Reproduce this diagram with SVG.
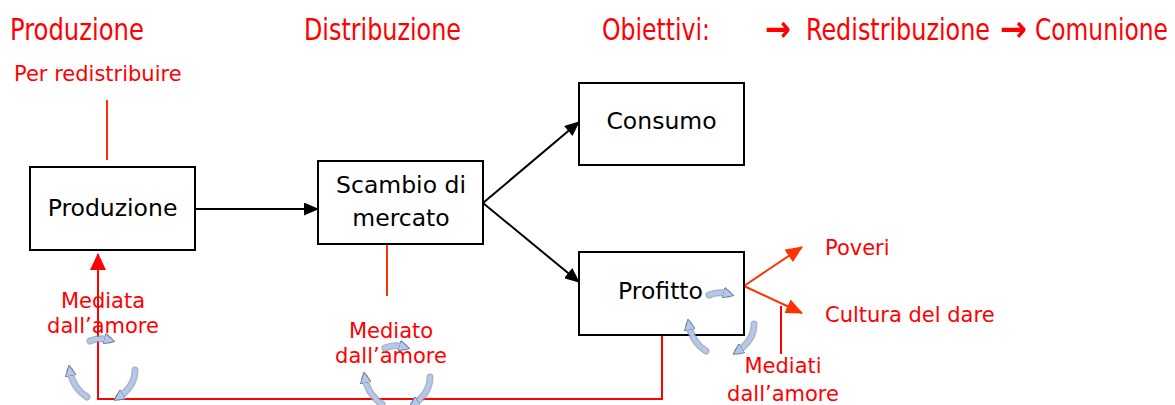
<svg xmlns="http://www.w3.org/2000/svg" width="1175" height="405" viewBox="0 0 1175 405">
<style>
.hdr{font-family:"DejaVu Sans Condensed",sans-serif;font-size:26px;fill:#ff0000}
.arr{font-family:"DejaVu Sans",sans-serif;font-size:36px;font-weight:bold;fill:#ff0000}
.lbl{font-family:"DejaVu Sans",sans-serif;font-size:21px;fill:#ff0000}
.box{fill:#ffffff;stroke:#000000;stroke-width:2}
.btxt{font-family:"DejaVu Sans",sans-serif;font-size:23.5px;fill:#000000;text-anchor:middle}
.blk{stroke:#000000;stroke-width:2;fill:none}
.org{stroke:#ff3300;stroke-width:2;fill:none}
.red{stroke:#ff0000;stroke-width:2;fill:none}
.bsh{stroke:#8a96a8;stroke-width:7;fill:none;stroke-linecap:round;opacity:0.7}
.bfl{stroke:#b4c8ee;stroke-width:4;fill:none;stroke-linecap:round}
</style>
<defs>
<marker id="ah" markerUnits="userSpaceOnUse" markerWidth="15" markerHeight="13" refX="14" refY="6.5" orient="auto">
<path d="M0,0 L15,6.5 L0,13 z" fill="#000000"/>
</marker>
<marker id="oh" markerUnits="userSpaceOnUse" markerWidth="17" markerHeight="15" refX="16" refY="7.5" orient="auto">
<path d="M0,0 L17,7.5 L0,15 z" fill="#ff3300"/>
</marker>
<marker id="rh" markerUnits="userSpaceOnUse" markerWidth="17" markerHeight="16" refX="16" refY="8" orient="auto">
<path d="M0,0 L17,8 L0,16 z" fill="#ff0000"/>
</marker>
<marker id="bh" markerUnits="userSpaceOnUse" markerWidth="11" markerHeight="11" refX="5" refY="5.5" orient="auto">
<path d="M0,0 L11,5.5 L0,11 z" fill="#b4c8ee" stroke="#6f7f96" stroke-width="1"/>
</marker>
<g id="cyc">
<path class="bsh" d="M-11,1 Q-2,-3 8,0"/>
<path class="bsh" d="M-14,57 Q-28,48 -31,31"/>
<path class="bsh" d="M34,30 Q34,46 18,57"/>
<path class="bfl" d="M-11,1 Q-2,-3 8,0" marker-end="url(#bh)"/>
<path class="bfl" d="M-14,57 Q-28,48 -31,31" marker-end="url(#bh)"/>
<path class="bfl" d="M34,30 Q34,46 18,57" marker-end="url(#bh)"/>
</g>
</defs>

<g id="headers" transform="translate(0,40) scale(1,1.13)">
<text class="hdr" x="10" y="0" textLength="134" lengthAdjust="spacingAndGlyphs">Produzione</text>
<text class="hdr" x="304" y="0" textLength="157" lengthAdjust="spacingAndGlyphs">Distribuzione</text>
<text class="hdr" x="602" y="0" textLength="108" lengthAdjust="spacingAndGlyphs">Obiettivi:</text>
<text class="hdr" x="806" y="0" textLength="184" lengthAdjust="spacingAndGlyphs">Redistribuzione</text>
<text class="hdr" x="1035" y="0" textLength="133" lengthAdjust="spacingAndGlyphs">Comunione</text>
</g>
<g id="header-arrows">
<text class="arr" x="765" y="41" textLength="26" lengthAdjust="spacingAndGlyphs">→</text>
<text class="arr" x="1000" y="41" textLength="27" lengthAdjust="spacingAndGlyphs">→</text>
</g>

<g id="connectors">
<line class="org" x1="107" y1="100" x2="107" y2="160"/>
<line class="org" x1="387" y1="245" x2="387" y2="296"/>
<line class="red" x1="781" y1="306" x2="781" y2="354"/>
<path class="blk" d="M195,209 L318,209" marker-end="url(#ah)"/>
<path class="blk" d="M483,203 L579,122" marker-end="url(#ah)"/>
<path class="blk" d="M483,203 L579,282" marker-end="url(#ah)"/>
<path class="org" d="M744,286 L802,247" marker-end="url(#oh)"/>
<path class="org" d="M744,286 L802,313" marker-end="url(#oh)"/>
<path class="red" d="M662,335 L662,399 L98,399 L98,254" marker-end="url(#rh)"/>
</g>

<g id="n-produzione">
<rect class="box" x="30" y="167" width="165" height="83"/>
<text class="btxt" x="112.5" y="216">Produzione</text>
</g>
<g id="n-scambio">
<rect class="box" x="318" y="161" width="165" height="83"/>
<text class="btxt" x="401" y="193">Scambio di</text>
<text class="btxt" x="401" y="226">mercato</text>
</g>
<g id="n-consumo">
<rect class="box" x="579" y="83" width="165" height="82"/>
<text class="btxt" x="661.5" y="129">Consumo</text>
</g>
<g id="n-profitto">
<rect class="box" x="579" y="252" width="165" height="83"/>
<text class="btxt" x="660.5" y="299">Profitto</text>
</g>

<g id="labels">
<text class="lbl" x="14" y="81">Per redistribuire</text>
<text class="lbl" x="825" y="255">Poveri</text>
<text class="lbl" x="825" y="322">Cultura del dare</text>
<text class="lbl" x="103" y="308" text-anchor="middle">Mediata</text>
<text class="lbl" x="103" y="333" text-anchor="middle">dall’amore</text>
<text class="lbl" x="391" y="338" text-anchor="middle">Mediato</text>
<text class="lbl" x="391" y="363" text-anchor="middle">dall’amore</text>
<text class="lbl" x="783" y="373" text-anchor="middle">Mediati</text>
<text class="lbl" x="783" y="401" text-anchor="middle">dall’amore</text>
</g>

<g id="cycle-icons">
<use href="#cyc" transform="translate(101,340)"/>
<use href="#cyc" transform="translate(396,347)"/>
<use href="#cyc" transform="translate(720,294)"/>
</g>
</svg>
